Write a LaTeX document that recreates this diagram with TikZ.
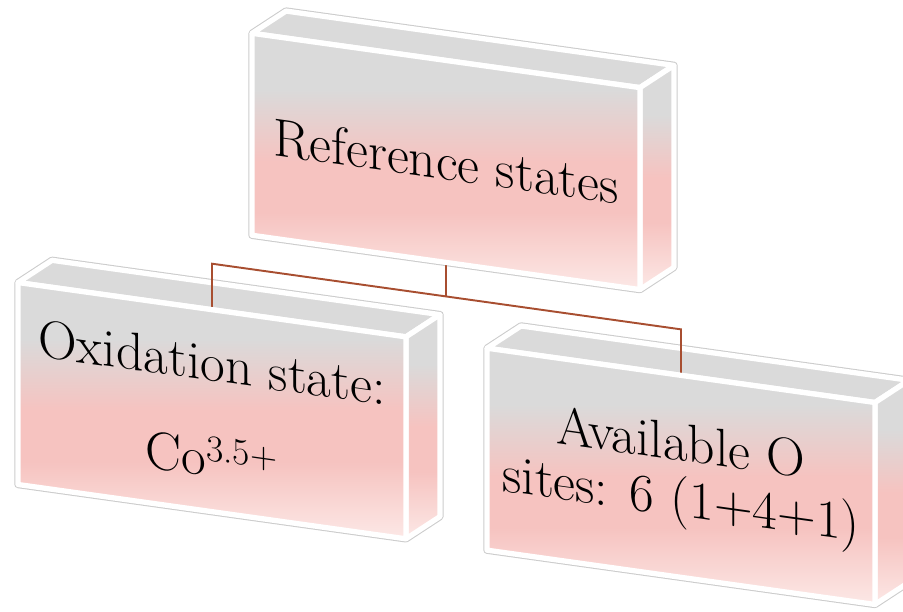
\documentclass[tikz,border=0pt]{standalone}
\usepackage{tikz}
\usetikzlibrary{calc}
\usetikzlibrary{backgrounds}
\definecolor{boxgray}{RGB}{218,218,218}
\definecolor{boxpink}{RGB}{246,195,192}
\definecolor{boxpale}{RGB}{252,232,230}
\definecolor{linkbrown}{RGB}{168,78,48}
\pgfdeclareverticalshading{facepink}{100bp}{color(0bp)=(boxpale); color(25bp)=(boxpale); color(40bp)=(boxpink); color(50bp)=(boxpink); color(64bp)=(boxgray); color(100bp)=(boxgray)}
\tikzset{box/.style={rectangle, transform shape, minimum width=7.76cm, minimum height=4.04cm, inner sep=0pt, outer sep=0pt, align=center, draw=white, line width=3pt, line join=round, shading=facepink, font=\fontsize{30.5}{31.5}\selectfont}}
\tikzset{rim/.style={draw=gray!40, fill=white, line width=4.2pt, line join=round}}
\tikzset{lid/.style={draw=white, fill=boxgray, line width=3pt, line join=round}}
\tikzset{side/.style={draw=white, shading=facepink, line width=3pt, line join=round}}
\tikzset{link/.style={draw=linkbrown, line width=1.1pt}}

\begin{document}
\begin{tikzpicture}[x=0.02cm,y=-0.02cm]
  \useasboundingbox (0,0) rectangle (903,612);
  \begin{scope}[yslant=-0.14]
    \node[box] (top) at (446,99) {Reference states};
    \node[box] (left) at (212,381) {Oxidation state:\\[23pt]Co\textsuperscript{3.5+}};
    \node[box] (right) at (681,381) {Available O\\sites: 6 (1+4+1)};
    \begin{scope}[on background layer]
      \foreach \b in {top,left,right}{
        \filldraw[rim] (\b.north west) -- ++(34,-27) -- ($(\b.north east)+(34,-27)$)
          -- ($(\b.south east)+(34,-27)$) -- (\b.south east) -- (\b.south west) -- cycle;
        \filldraw[lid] (\b.north west) -- ++(34,-27) -- ($(\b.north east)+(34,-27)$) -- (\b.north east) -- cycle;
        \shadedraw[side] (\b.north east) -- ($(\b.north east)+(34,-27)$) -- ($(\b.south east)+(34,-27)$) -- (\b.south east) -- cycle;
      }
      \draw[link] (top.south) -- ++(0,34) coordinate (fork);
      \draw[link] (left.north) -- ++(0,-46) coordinate (lfork) -- (fork) -- ($(right.north)+(0,-46)$) -- (right.north);
    \end{scope}
  \end{scope}
\end{tikzpicture}
\end{document}
